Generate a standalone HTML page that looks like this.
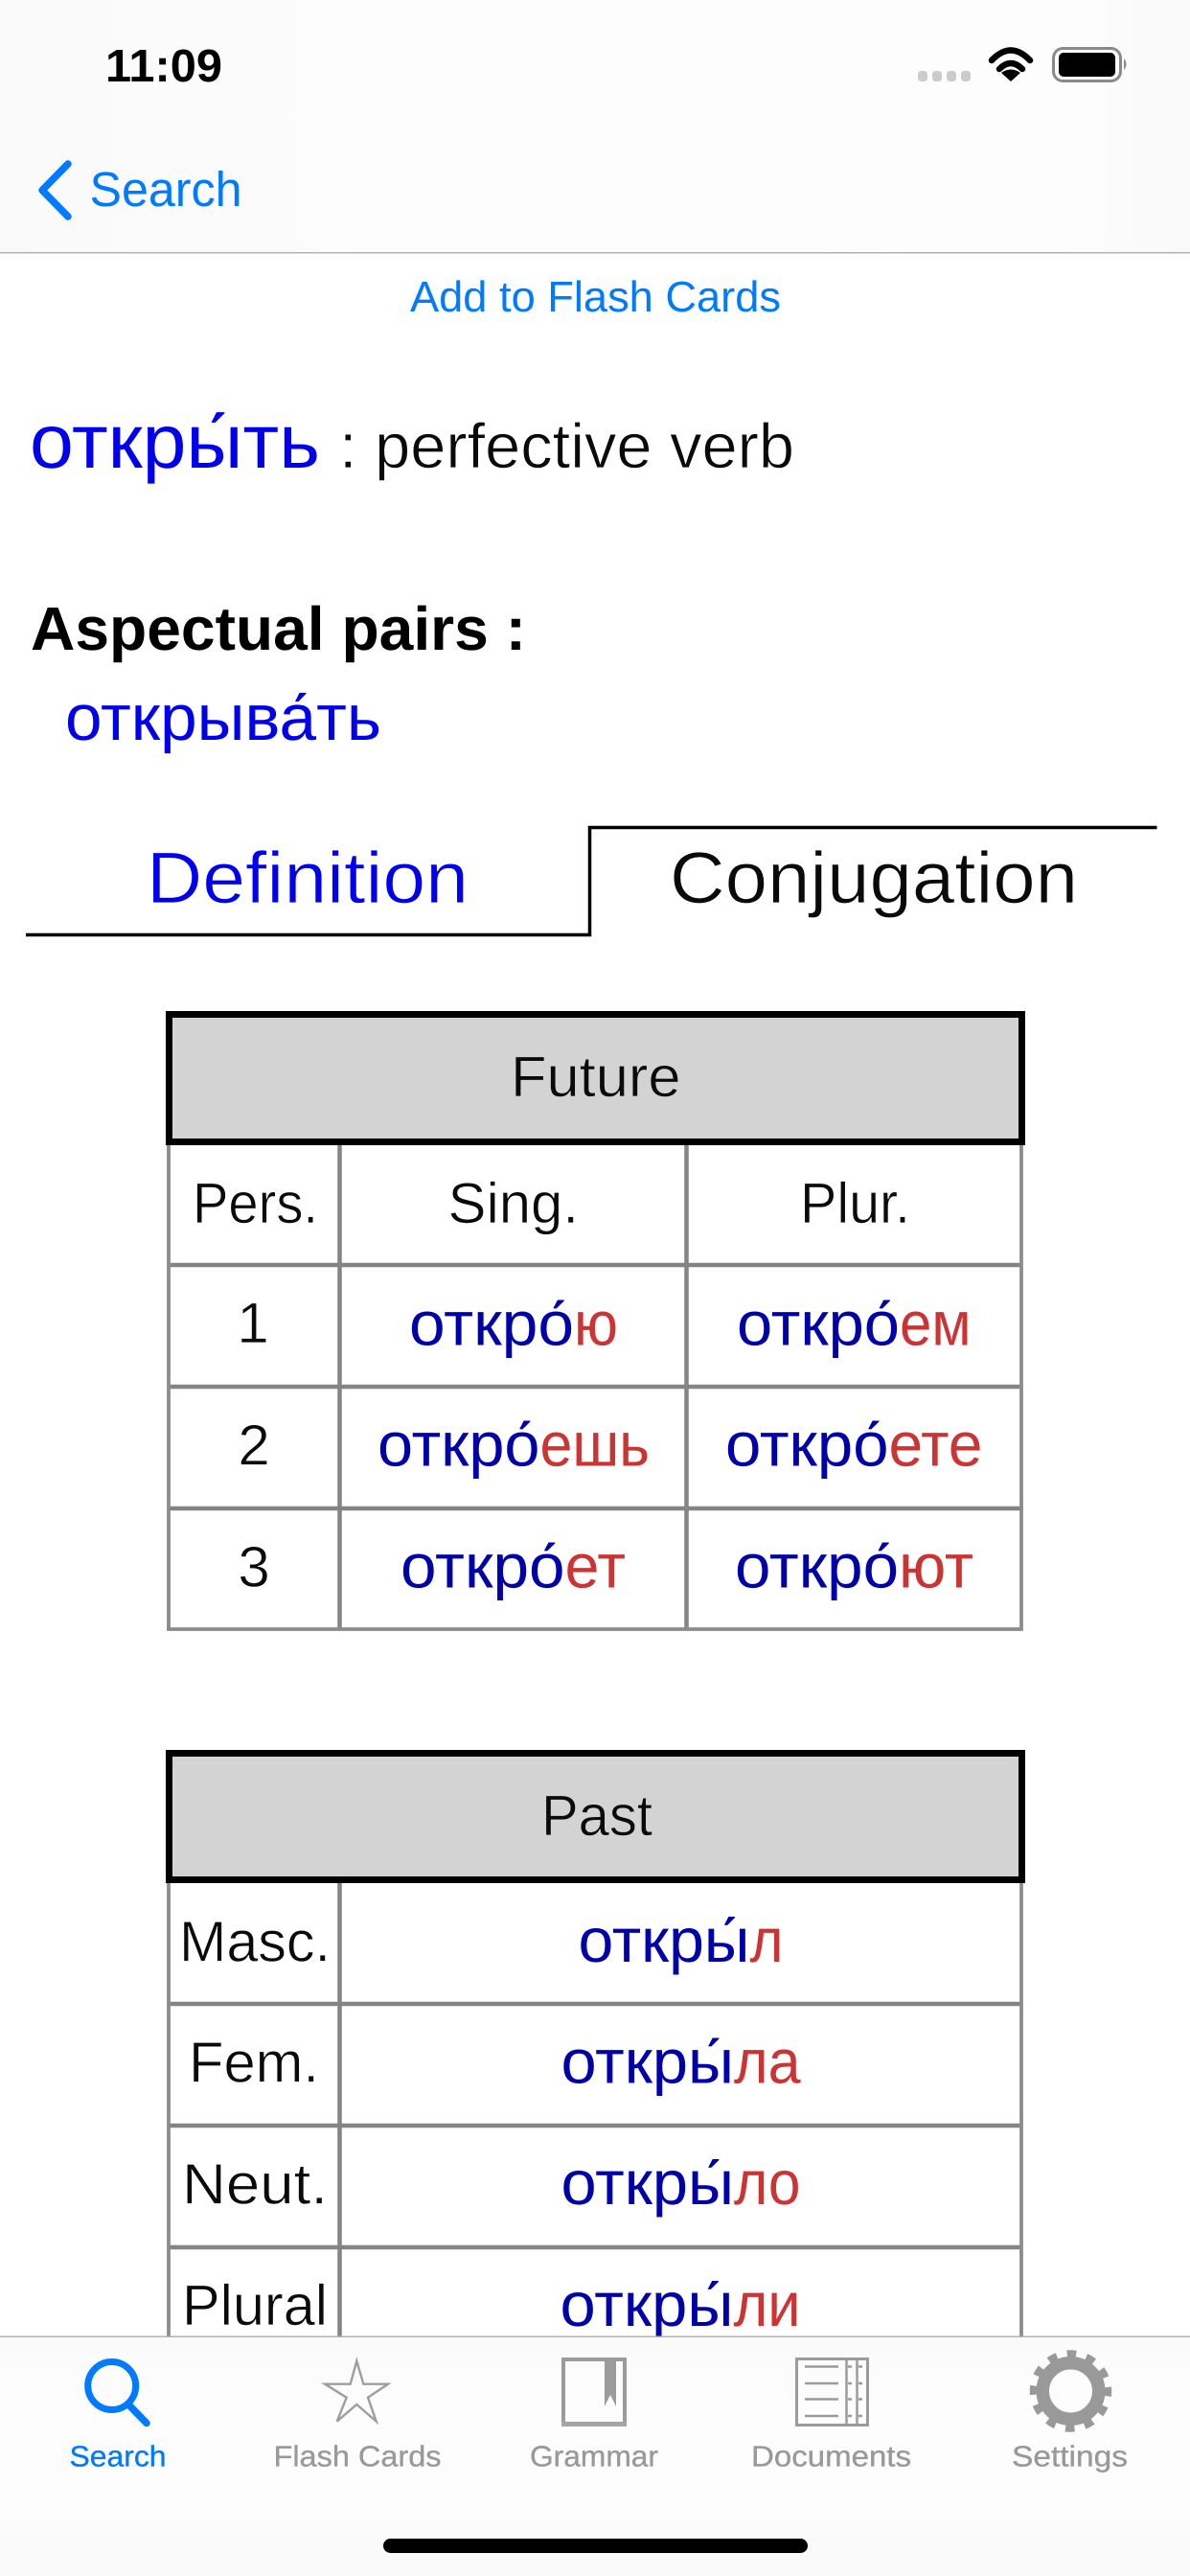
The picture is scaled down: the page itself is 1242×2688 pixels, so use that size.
<!DOCTYPE html>
<html lang="ru"><head><meta charset="utf-8"><title>открыть</title>
<style>
html,body{margin:0;padding:0;background:#fff;width:1242px;height:2688px;overflow:hidden}
svg{display:block}
text{font-family:"Liberation Sans",sans-serif;text-rendering:geometricPrecision}
.b{fill:#0000aa;font-size:65px}
.r{fill:#cc3333;font-size:65px}
.h{font-size:60px;fill:#0a0a0a;stroke:#fff;stroke-width:.7px}
.g{stroke:#d3d3d3}
.d{text-anchor:middle}
.t{font-size:30.5px;fill:#999;stroke:#999;stroke-width:.35px}
</style></head><body>
<svg xmlns="http://www.w3.org/2000/svg" width="1242" height="2688" viewBox="0 0 1242 2688">
<defs>
<linearGradient id="g" x1="0" x2="1" y1="0" y2="0"><stop offset="0" stop-color="#f9f9f9"/><stop offset=".12" stop-color="#fbfbfb"/><stop offset=".88" stop-color="#fdfdfd"/><stop offset="1" stop-color="#f9f9f9"/></linearGradient>
<linearGradient id="g2" x1="0" x2="0" y1="0" y2="1"><stop offset="0" stop-color="#fafafa"/><stop offset=".3" stop-color="#fdfdfd"/><stop offset=".7" stop-color="#fcfcfc"/><stop offset="1" stop-color="#f9f9f9"/></linearGradient>
</defs>
<rect width="1242" height="2688" fill="#fff"/>

<!-- Header -->
<rect width="1242" height="263" fill="url(#g)"/>
<rect y="263" width="1242" height="1.5" fill="#b2b2b2"/>
<text x="110" y="85" font-size="48" font-weight="bold" fill="#000" textLength="122" lengthAdjust="spacingAndGlyphs">11:09</text>
<g fill="#cbcbcb"><rect x="958" y="74" width="10" height="11" rx="3.5"/><rect x="973" y="74" width="10" height="11" rx="3.5"/><rect x="988" y="74" width="10" height="11" rx="3.5"/><rect x="1003" y="74" width="10" height="11" rx="3.5"/></g>
<g fill="none" stroke="#000" stroke-width="6.5" stroke-linecap="round"><path d="M1035 63Q1055 42 1075 63"/><path d="M1043 72Q1055 60 1067 72"/></g>
<path d="M1055 85L1045 76Q1055 69 1065 76Z" fill="#000"/>
<rect x="1099.5" y="50.5" width="70" height="34" rx="10" fill="none" stroke="#8a8a8a" stroke-width="3"/>
<rect x="1105" y="55" width="59" height="25" rx="5" fill="#000"/>
<path d="M1173 61Q1178 67 1173 73Z" fill="#8a8a8a"/>

<path d="M71 171L44 198.5L71 226" fill="none" stroke="#007aff" stroke-width="7.5" stroke-linecap="round" stroke-linejoin="round"/>
<text x="93.5" y="215" font-size="51" fill="#007aff" textLength="159" lengthAdjust="spacingAndGlyphs">Search</text>
<text x="428" y="325" font-size="45" fill="#007aff" textLength="387" lengthAdjust="spacingAndGlyphs">Add to Flash Cards</text>

<!-- Title -->
<text x="31" y="488" font-size="80" fill="#0000ee" textLength="303" lengthAdjust="spacingAndGlyphs">откры́ть</text>
<text x="354" y="488" font-size="66" fill="#0a0a0a" stroke="#fff" stroke-width=".8" textLength="475" lengthAdjust="spacingAndGlyphs">: perfective verb</text>
<text x="32" y="678" font-size="64" font-weight="bold" fill="#000" textLength="517" lengthAdjust="spacingAndGlyphs">Aspectual pairs :</text>
<text x="68" y="772" font-size="68" fill="#0000ee" textLength="330" lengthAdjust="spacingAndGlyphs">открыва́ть</text>

<!-- Tabs -->
<path d="M27 975.5H615.5V863.5H1207.5" fill="none" stroke="#000" stroke-width="3.5"/>
<text x="153" y="942" font-size="76" fill="#0000ee" stroke="#fff" stroke-width=".8" textLength="336" lengthAdjust="spacingAndGlyphs">Definition</text>
<text x="699" y="942" font-size="76" fill="#0a0a0a" stroke="#fff" stroke-width=".8" textLength="426" lengthAdjust="spacingAndGlyphs">Conjugation</text>

<!-- Future table -->
<g fill="none" stroke="#848484" stroke-width="4.5">
<path d="M354.5 1195V1700M716.5 1195V1700"/>
<path d="M176 1320H1066M176 1447H1066M176 1574H1066"/>
</g>
<path d="M176 1195V1700H1066V1195" fill="none" stroke="#8c8c8c" stroke-width="3.8"/>
<rect x="176.5" y="1058.5" width="890" height="133" fill="#d3d3d3" stroke="#000" stroke-width="7"/>
<text class="h g" x="533" y="1144" textLength="177.5" lengthAdjust="spacingAndGlyphs">Future</text>
<text class="h" x="201" y="1276" textLength="131" lengthAdjust="spacingAndGlyphs">Pers.</text>
<text class="h" x="467.5" y="1276" textLength="136.5" lengthAdjust="spacingAndGlyphs">Sing.</text>
<text class="h" x="835" y="1276" textLength="115" lengthAdjust="spacingAndGlyphs">Plur.</text>
<text class="h d" x="264" y="1401">1</text>
<text class="h d" x="265" y="1528.5">2</text>
<text class="h d" x="265" y="1655.5">3</text>

<text class="b" x="427" y="1403.5" textLength="172" lengthAdjust="spacingAndGlyphs">откро́</text><text class="r" x="599" y="1403.5" textLength="46" lengthAdjust="spacingAndGlyphs">ю</text>
<text class="b" x="769" y="1403.5" textLength="170" lengthAdjust="spacingAndGlyphs">откро́</text><text class="r" x="939" y="1403.5" textLength="74.5" lengthAdjust="spacingAndGlyphs">ем</text>
<text class="b" x="394" y="1529.5" textLength="169.5" lengthAdjust="spacingAndGlyphs">откро́</text><text class="r" x="563.5" y="1529.5" textLength="114.5" lengthAdjust="spacingAndGlyphs">ешь</text>
<text class="b" x="757" y="1529.5" textLength="170.5" lengthAdjust="spacingAndGlyphs">откро́</text><text class="r" x="927.5" y="1529.5" textLength="98" lengthAdjust="spacingAndGlyphs">ете</text>
<text class="b" x="418" y="1656.5" textLength="171.5" lengthAdjust="spacingAndGlyphs">откро́</text><text class="r" x="589.5" y="1656.5" textLength="63.5" lengthAdjust="spacingAndGlyphs">ет</text>
<text class="b" x="767" y="1656.5" textLength="171" lengthAdjust="spacingAndGlyphs">откро́</text><text class="r" x="938" y="1656.5" textLength="78" lengthAdjust="spacingAndGlyphs">ют</text>

<!-- Past table -->
<g fill="none" stroke="#848484" stroke-width="4.5">
<path d="M354.5 1965V2440"/>
<path d="M176 2091H1066M176 2218H1066M176 2345H1066"/>
</g>
<path d="M176 1965V2440M1066 1965V2440" fill="none" stroke="#8c8c8c" stroke-width="3.8"/>
<rect x="176.5" y="1829.5" width="890" height="132" fill="#d3d3d3" stroke="#000" stroke-width="7"/>
<text class="h g" x="565" y="1915" textLength="116" lengthAdjust="spacingAndGlyphs">Past</text>
<text class="h" x="187" y="2046.5" textLength="158" lengthAdjust="spacingAndGlyphs">Masc.</text>
<text class="h" x="197" y="2172.5" textLength="136" lengthAdjust="spacingAndGlyphs">Fem.</text>
<text class="h" x="190" y="2299.5" textLength="152" lengthAdjust="spacingAndGlyphs">Neut.</text>
<text class="h" x="190" y="2426" textLength="152" lengthAdjust="spacingAndGlyphs">Plural</text>

<text class="b" x="603.5" y="2047" textLength="179" lengthAdjust="spacingAndGlyphs">откры́</text><text class="r" x="782.5" y="2047" textLength="35" lengthAdjust="spacingAndGlyphs">л</text>
<text class="b" x="585.5" y="2173.5" textLength="180.5" lengthAdjust="spacingAndGlyphs">откры́</text><text class="r" x="766" y="2173.5" textLength="69.5" lengthAdjust="spacingAndGlyphs">ла</text>
<text class="b" x="585.5" y="2300" textLength="180.5" lengthAdjust="spacingAndGlyphs">откры́</text><text class="r" x="766" y="2300" textLength="69.5" lengthAdjust="spacingAndGlyphs">ло</text>
<text class="b" x="584.5" y="2427" textLength="181" lengthAdjust="spacingAndGlyphs">откры́</text><text class="r" x="765.5" y="2427" textLength="70" lengthAdjust="spacingAndGlyphs">ли</text>

<!-- Tab bar -->
<rect y="2438" width="1242" height="250" fill="url(#g2)"/>
<rect y="2437.5" width="1242" height="1.5" fill="#b2b2b2"/>
<circle cx="116.7" cy="2489.5" r="25" fill="none" stroke="#007aff" stroke-width="7"/>
<path d="M135 2510L153 2528.5" fill="none" stroke="#007aff" stroke-width="7.5" stroke-linecap="round"/>
<polygon points="372.3,2463.5 379.3,2487.7 405,2487.7 384,2501.7 392.7,2526.7 372.3,2509 351.7,2526.7 361.7,2501.7 339,2487.7 365.7,2487.7" fill="none" stroke="#9e9e9e" stroke-width="2.4"/>
<rect x="588" y="2462" width="64" height="67" fill="none" stroke="#9b9b9b" stroke-width="4"/>
<rect x="586" y="2527" width="68" height="5" fill="#a5a5a5"/>
<polygon points="631,2460 643,2460 643,2511 637,2499 631,2511" fill="#9b9b9b"/>
<rect x="831.5" y="2461.5" width="74" height="69" fill="none" stroke="#9b9b9b" stroke-width="3"/>
<g stroke="#9b9b9b" stroke-width="2.5" fill="none">
<path d="M840 2469.5H875M840 2487H875M840 2503.5H875M840 2521H875"/>
<path d="M883.5 2461V2531M894.5 2461V2531"/>
<path d="M885 2469.5H889M896 2469.5H900M885 2487H889M896 2487H900M885 2503.5H889M896 2503.5H900M885 2521H889M896 2521H900"/>
</g>
<circle cx="1117.5" cy="2495" r="29.25" fill="none" stroke="#999" stroke-width="13.5"/>
<circle cx="1117.5" cy="2495" r="39" fill="none" stroke="#999" stroke-width="7.5" stroke-dasharray="9.5 10.92" transform="rotate(-6 1117.5 2495)"/>

<text class="t" x="72.5" y="2573.5" style="fill:#007aff;stroke:#007aff" textLength="101" lengthAdjust="spacingAndGlyphs">Search</text>
<text class="t" x="285.5" y="2573.5" textLength="175" lengthAdjust="spacingAndGlyphs">Flash Cards</text>
<text class="t" x="553" y="2573.5" textLength="134" lengthAdjust="spacingAndGlyphs">Grammar</text>
<text class="t" x="784" y="2573.5" textLength="167" lengthAdjust="spacingAndGlyphs">Documents</text>
<text class="t" x="1056" y="2573.5" textLength="121" lengthAdjust="spacingAndGlyphs">Settings</text>
<rect x="400" y="2649" width="443" height="15" rx="7.5" fill="#000"/>
</svg>
</body></html>
